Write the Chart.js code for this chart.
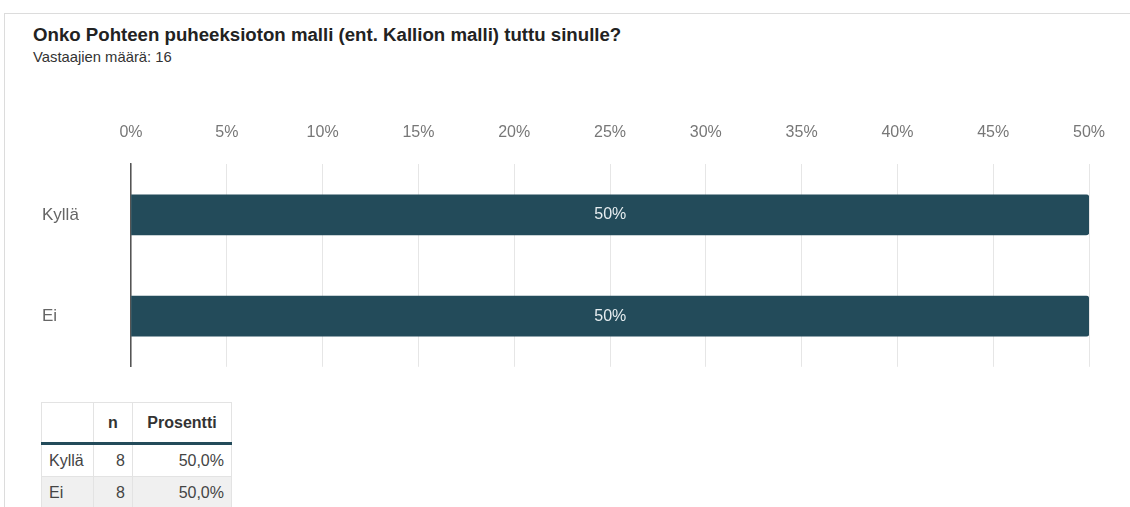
<!DOCTYPE html>
<html>
<head>
<meta charset="utf-8">
<script src="https://cdn.jsdelivr.net/npm/chart.js@4"></script>
<style>
  body { margin: 0; background: #fff; font-family: "Liberation Sans", Arial, sans-serif; }
  .panel {
    position: absolute; left: 4px; top: 13px; width: 1126px; height: 494px;
    border-left: 1px solid #dcdcdc; border-top: 1px solid #dcdcdc;
  }
  h1 { position: absolute; left: 33px; top: 24px; margin: 0; font-size: 18.65px; font-weight: bold; color: #222; }
  .sub { position: absolute; left: 33px; top: 49px; font-size: 14.8px; color: #333; }
  .chart-box { position: absolute; left: 30px; top: 88px; width: 1090px; height: 292px; }
  table {
    position: absolute; left: 41px; top: 402px; border-collapse: collapse; table-layout: fixed;
    width: 190px; font-size: 16px; color: #444;
  }
  th, td { border: 1px solid #e3e3e3; padding: 0 7px; height: 31px; }
  th { font-size: 16px; color: #333; height: 39px; border-bottom: 3px solid #234b5a; }
  td.num { text-align: right; }
  tr.alt td { background: #f0f0f0; }
</style>
</head>
<body>
<div class="panel"></div>
<h1>Onko Pohteen puheeksioton malli (ent. Kallion malli) tuttu sinulle?</h1>
<div class="sub">Vastaajien määrä: 16</div>
<div class="chart-box"><canvas id="barChart"></canvas></div>
<table>
  <colgroup><col style="width:52px"><col style="width:39px"><col style="width:99px"></colgroup>
  <thead><tr><th></th><th>n</th><th>Prosentti</th></tr></thead>
  <tbody id="tableBody"></tbody>
</table>
<script>
// answer categories and their shares
const categories = ["Kyllä", "Ei"];
const counts = [8, 8];
const percents = [50, 50];
const tickValues = [0, 5, 10, 15, 20, 25, 30, 35, 40, 45, 50];

// fill the small table under the chart
const tbody = document.getElementById("tableBody");
categories.forEach((cat, i) => {
  const tr = document.createElement("tr");
  if (i % 2 === 1) tr.className = "alt";
  tr.innerHTML =
    `<td>${cat}</td><td class="num">${counts[i]}</td><td class="num">${percents[i].toFixed(1).replace(".", ",")}%</td>`;
  tbody.appendChild(tr);
});

// write the value in the middle of each bar
const barLabels = {
  id: "barLabels",
  afterDatasetsDraw(chart) {
    const ctx = chart.ctx;
    const meta = chart.getDatasetMeta(0);
    ctx.save();
    ctx.fillStyle = "#e6edf0";
    ctx.font = "16px 'Liberation Sans', Arial, sans-serif";
    ctx.textAlign = "center";
    ctx.textBaseline = "middle";
    meta.data.forEach((bar, i) => {
      const mid = (bar.x + bar.base) / 2;
      ctx.fillText(percents[i] + "%", mid, bar.y);
    });
    ctx.restore();
  },
};

const ctx = document.getElementById("barChart").getContext("2d");
new Chart(ctx, {
  type: "bar",
  data: {
    labels: categories,
    datasets: [
      {
        data: percents,
        backgroundColor: "#234b5a",
        borderRadius: 3,
        borderSkipped: "start",
        barThickness: 40,
      },
    ],
  },
  options: {
    indexAxis: "y",
    responsive: true,
    maintainAspectRatio: false,
    animation: false,
    layout: { padding: { left: 12, right: 31, top: 13, bottom: 8 } },
    plugins: { legend: { display: false }, tooltip: { enabled: false } },
    scales: {
      x: {
        position: "top",
        min: 0,
        max: 50,
        afterBuildTicks: (scale) => {
          scale.ticks = tickValues.map((v) => ({ value: v }));
        },
        afterFit: (scale) => {
          scale.paddingLeft = 0;
          scale.paddingRight = 0;
        },
        ticks: {
          padding: 22,
          color: "#777",
          font: { size: 16, family: "'Liberation Sans', Arial, sans-serif" },
          callback: (v) => v + "%",
        },
        grid: { color: "#e6e6e6", drawTicks: false },
        border: { display: false },
      },
      y: {
        afterFit: (scale) => {
          scale.width = 89;
        },
        ticks: {
          crossAlign: "far",
          color: "#666",
          font: { size: 17, family: "'Liberation Sans', Arial, sans-serif" },
        },
        grid: { display: false },
        border: { color: "#555", width: 1.5 },
      },
    },
  },
  plugins: [barLabels],
});
</script>
</body>
</html>
